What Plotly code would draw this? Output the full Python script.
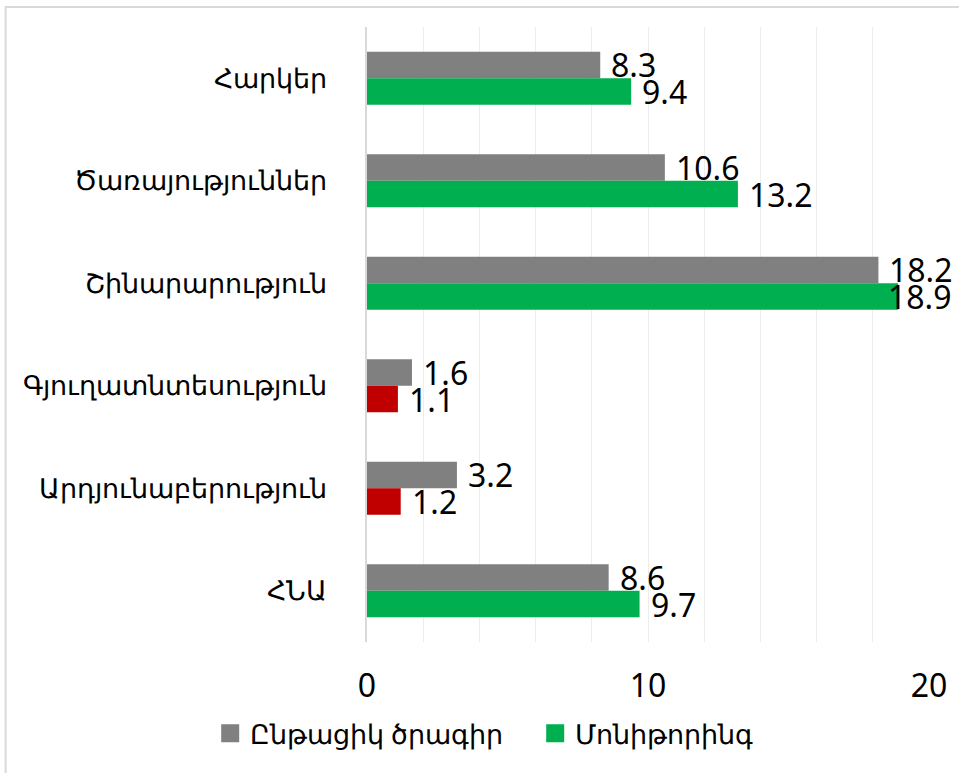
import plotly.graph_objects as go

categories = ["Հարկեր", "Ծառայություններ", "Շինարարություն",
              "Գյուղատնտեսություն", "Արդյունաբերություն", "ՀՆԱ"]
current_program = [8.3, 10.6, 18.2, 1.6, 3.2, 8.6]
monitoring = [9.4, 13.2, 18.9, 1.1, 1.2, 9.7]
series_names = ["Ընթացիկ ծրագիր", "Մոնիթորինգ"]
tick_vals = [0, 10, 20]

GRAY = "#808080"
GREEN = "#00B050"
RED = "#C00000"
FONT = "Noto Sans"
FS = 32
X_MAX = 20

mon_colors = [RED if m < c else GREEN for m, c in zip(monitoring, current_program)]

fig = go.Figure()
fig.add_trace(go.Bar(
    y=categories, x=current_program, orientation="h", name=series_names[0],
    marker=dict(color=GRAY, line=dict(width=0)),
    hoverinfo="skip", showlegend=False,
))
fig.add_trace(go.Bar(
    y=categories, x=monitoring, orientation="h", name=series_names[1],
    marker=dict(color=mon_colors, line=dict(width=0)),
    hoverinfo="skip", showlegend=False,
))
# legend keys (larger square swatches)
for name, col in ((series_names[0], GRAY), (series_names[1], GREEN)):
    fig.add_trace(go.Scatter(
        x=[None], y=[None], mode="markers", name=name,
        marker=dict(symbol="square", size=16, color=col, line=dict(color=col, width=2)),
        hoverinfo="skip", showlegend=True,
    ))

# value labels (kept inside the chart frame when they would run off the edge)
BAR_HALF = 13.3
for vals, shift in ((current_program, BAR_HALF), (monitoring, -BAR_HALF)):
    for cat, v in zip(categories, vals):
        if v > 0.925 * X_MAX:
            fig.add_annotation(
                xref="paper", x=1.044, y=cat, text=f"{v:.1f}", showarrow=False,
                xanchor="right", yanchor="middle", yshift=shift,
                font=dict(family=FONT, size=FS, color="#000000"),
            )
        else:
            fig.add_annotation(
                x=v, y=cat, text=f"{v:.1f}", showarrow=False,
                xanchor="left", yanchor="middle", xshift=9, yshift=shift,
                font=dict(family=FONT, size=FS, color="#000000"),
            )

# outer border
fig.add_shape(type="rect", xref="paper", yref="paper",
              x0=-0.643, x1=1.2, y0=1.0325, y1=-0.4,
              line=dict(color="#D9D9D9", width=2), fillcolor="rgba(0,0,0,0)",
              layer="below")

fig.update_layout(
    width=959, height=773,
    margin=dict(l=367, r=26, t=27, b=131),
    paper_bgcolor="white", plot_bgcolor="white",
    barmode="group", bargap=0.483, bargroupgap=0,
    font=dict(family=FONT, size=FS, color="#000000"),
    showlegend=True,
    legend=dict(orientation="h", x=-0.279, xanchor="left", y=-0.149, yanchor="middle",
                font=dict(family=FONT, size=27, color="#000000"),
                itemwidth=30, entrywidth=280, traceorder="normal"),
    xaxis=dict(range=[0, X_MAX], tickvals=tick_vals, showgrid=True, gridcolor="#EDEDED",
               gridwidth=1, zeroline=False, showline=False, ticks="",
               ticklabelstandoff=22,
               minor=dict(dtick=2, showgrid=True, gridcolor="#EDEDED", gridwidth=1),
               tickfont=dict(family=FONT, size=FS)),
    yaxis=dict(autorange="reversed", showline=True, linecolor="#D9D9D9", linewidth=2,
               ticks="", showgrid=False, zeroline=False, ticklabelstandoff=33,
               tickfont=dict(family=FONT, size=26.5)),
)

fig.write_html("out.html", config={"displayModeBar": False},
               post_script="document.body.style.margin='0';document.body.style.padding='0';")
